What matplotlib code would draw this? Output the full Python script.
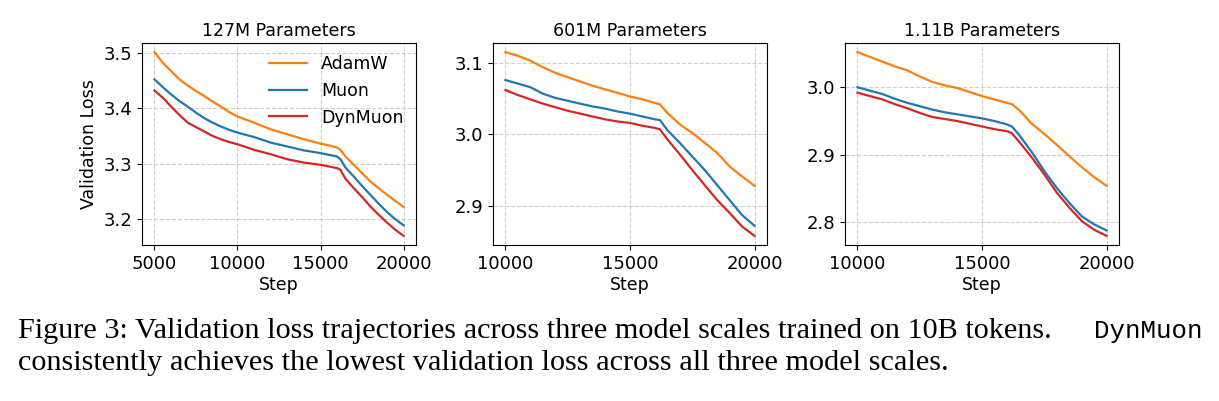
import matplotlib
matplotlib.use("Agg")
import matplotlib.pyplot as plt

# values (validation loss vs step)
steps_127m = [5000, 5500, 6000, 6500, 7000, 7500, 8000, 8500, 9000, 9500, 10000,
              11000, 12000, 13000, 14000, 15000, 15500, 16000, 16200, 16500,
              17000, 17500, 18000, 18500, 19000, 19500, 20000]
adamw_127m = [3.501, 3.482, 3.467, 3.452, 3.441, 3.431, 3.422, 3.412, 3.403, 3.393, 3.385,
              3.374, 3.362, 3.353, 3.344, 3.336, 3.333, 3.329, 3.325, 3.313,
              3.298, 3.283, 3.268, 3.256, 3.244, 3.233, 3.222]
muon_127m = [3.452, 3.438, 3.425, 3.413, 3.403, 3.392, 3.382, 3.374, 3.367, 3.361, 3.356,
             3.348, 3.338, 3.331, 3.324, 3.319, 3.316, 3.313, 3.308, 3.293,
             3.277, 3.260, 3.244, 3.228, 3.213, 3.200, 3.189]
dynmuon_127m = [3.432, 3.419, 3.403, 3.388, 3.374, 3.366, 3.358, 3.350, 3.344, 3.339, 3.335,
                3.325, 3.317, 3.308, 3.302, 3.298, 3.295, 3.292, 3.289, 3.273,
                3.256, 3.240, 3.223, 3.208, 3.194, 3.181, 3.170]

steps_big = [10000, 10500, 11000, 11500, 12000, 12500, 13000, 13500, 14000, 14500, 15000,
             15500, 16000, 16200, 16500, 17000, 17500, 18000, 18500, 19000, 19500, 20000]
adamw_601m = [3.115, 3.110, 3.103, 3.094, 3.086, 3.080, 3.074, 3.068, 3.063, 3.058, 3.053,
              3.049, 3.044, 3.042, 3.030, 3.014, 3.002, 2.988, 2.974, 2.955, 2.941, 2.928]
muon_601m = [3.076, 3.071, 3.066, 3.057, 3.051, 3.047, 3.043, 3.039, 3.036, 3.032, 3.029,
             3.025, 3.021, 3.020, 3.006, 2.988, 2.969, 2.950, 2.929, 2.908, 2.887, 2.872]
dynmuon_601m = [3.062, 3.055, 3.049, 3.043, 3.038, 3.033, 3.029, 3.025, 3.021, 3.018, 3.016,
                3.012, 3.009, 3.007, 2.993, 2.972, 2.950, 2.929, 2.908, 2.890, 2.871, 2.858]

adamw_111b = [3.052, 3.045, 3.038, 3.031, 3.025, 3.016, 3.008, 3.003, 2.999, 2.993, 2.987,
              2.982, 2.977, 2.975, 2.966, 2.946, 2.931, 2.915, 2.898, 2.882, 2.867, 2.854]
muon_111b = [3.000, 2.995, 2.990, 2.983, 2.977, 2.972, 2.967, 2.963, 2.960, 2.957, 2.954,
             2.950, 2.945, 2.942, 2.929, 2.904, 2.876, 2.851, 2.829, 2.809, 2.797, 2.788]
dynmuon_111b = [2.992, 2.987, 2.982, 2.975, 2.969, 2.962, 2.956, 2.953, 2.950, 2.946, 2.942,
                2.938, 2.935, 2.932, 2.919, 2.896, 2.871, 2.844, 2.822, 2.802, 2.789, 2.780]

titles = ["127M Parameters", "601M Parameters", "1.11B Parameters"]
labels = ["AdamW", "Muon", "DynMuon"]
colors = ["#ff7f0e", "#1f77b4", "#d62728"]

panels = [
    (steps_127m, [adamw_127m, muon_127m, dynmuon_127m], [3.2, 3.3, 3.4, 3.5], [5000, 10000, 15000, 20000]),
    (steps_big, [adamw_601m, muon_601m, dynmuon_601m], [2.9, 3.0, 3.1], [10000, 15000, 20000]),
    (steps_big, [adamw_111b, muon_111b, dynmuon_111b], [2.8, 2.9, 3.0], [10000, 15000, 20000]),
]

fig = plt.figure(figsize=(12.19, 4.01), dpi=100)
lefts = [142 / 1219, 493 / 1219, 845 / 1219]
w = 274 / 1219
bottom = 1 - 245 / 401
h = 202 / 401

for i, (x, ys, yt, xt) in enumerate(panels):
    ax = fig.add_axes([lefts[i], bottom, w, h])
    for y, lab, c in zip(ys, labels, colors):
        ax.plot(x, y, color=c, lw=1.6, label=lab)
    ax.set_title(titles[i], fontsize=12.5, pad=5)
    ax.set_xlabel("Step", fontsize=12.5, labelpad=2)
    ax.set_xticks(xt)
    ax.set_yticks(yt)
    ax.tick_params(labelsize=13)
    ax.grid(True, linestyle="--", color="#b0b0b0", alpha=0.6, lw=0.8)
    if i == 0:
        ax.set_ylabel("Validation Loss", fontsize=12.5)
        ax.legend(loc="upper right", frameon=False, fontsize=12.5,
                  handlelength=2.2, borderaxespad=0.3)

# caption
serif = ["Liberation Serif", "DejaVu Serif"]
fig.text(18 / 1219, 1 - 338 / 401,
         "Figure 3: Validation loss trajectories across three model scales trained on 10B tokens.",
         family=serif, fontsize=21.8, va="baseline", ha="left")
fig.text(1203 / 1219, 1 - 338 / 401, "DynMuon", family=["Liberation Mono", "DejaVu Sans Mono"],
         fontsize=18.5, va="baseline", ha="right")
fig.text(18 / 1219, 1 - 370 / 401,
         "consistently achieves the lowest validation loss across all three model scales.",
         family=serif, fontsize=21.8, va="baseline", ha="left")

fig.savefig("out.png", dpi=100)
